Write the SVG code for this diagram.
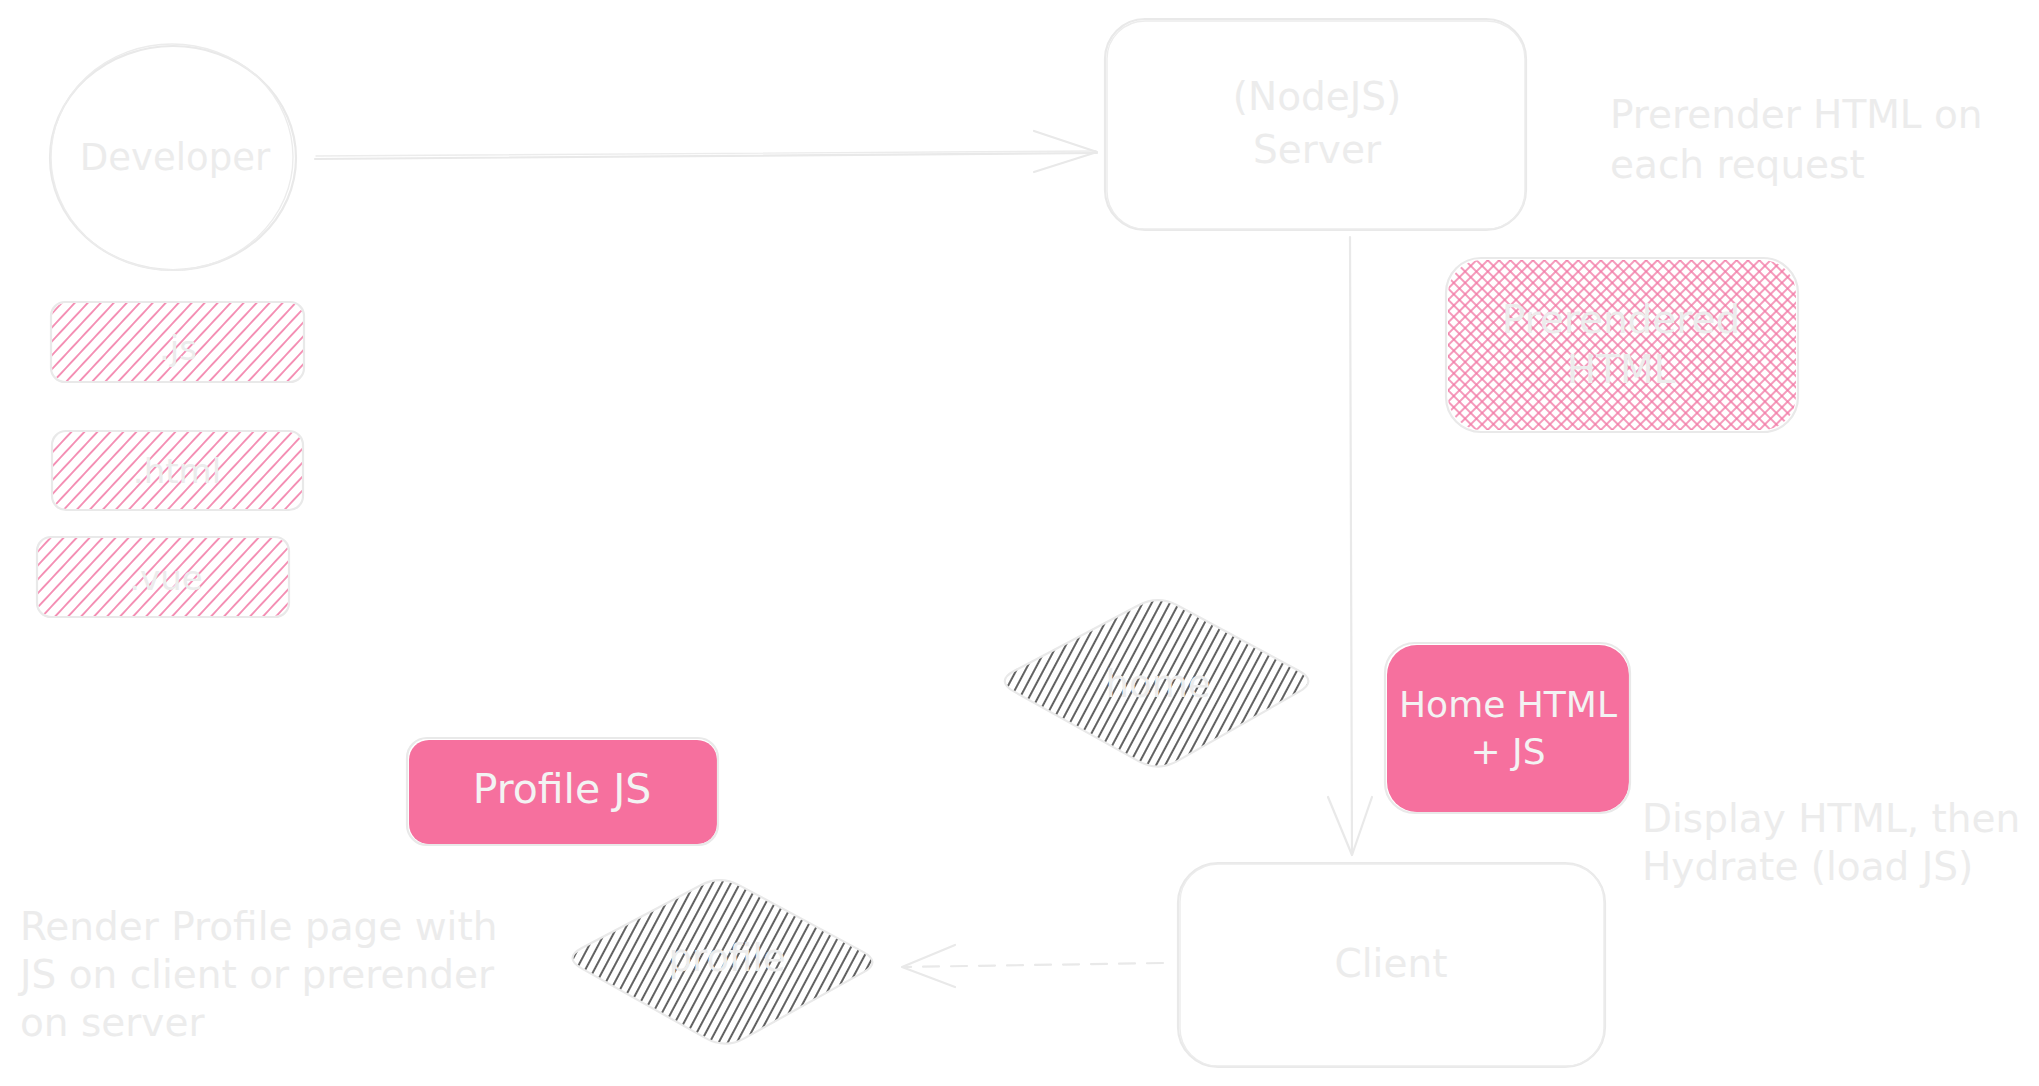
<svg xmlns="http://www.w3.org/2000/svg" width="2039" height="1086" viewBox="0 0 2039 1086">
<defs>
<pattern id="hatchPink" patternUnits="userSpaceOnUse" width="9.5" height="9.5" patternTransform="rotate(-47)">
<line x1="0" y1="4.75" x2="9.5" y2="4.75" stroke="#f27aa6" stroke-width="1.6"/>
</pattern>
<pattern id="crossPink" patternUnits="userSpaceOnUse" width="8" height="8" patternTransform="rotate(45)">
<path d="M0 4H8M4 0V8" stroke="#f27aa6" stroke-width="1.5" fill="none"/>
</pattern>
<pattern id="hatchDark" patternUnits="userSpaceOnUse" width="8" height="8" patternTransform="rotate(-62)">
<line x1="0" y1="4" x2="8" y2="4" stroke="#1e1e1e" stroke-width="1.4"/>
</pattern>
</defs>
<style>
.ol{fill:none;stroke:#e9e9e9;stroke-width:2.2;stroke-linecap:round;stroke-linejoin:round}
.ol2{fill:none;stroke:#ececec;stroke-width:1.4;stroke-linecap:round;stroke-linejoin:round}
.t{font-family:"DejaVu Sans","Liberation Sans",sans-serif;fill:#ececec}
.tc{text-anchor:middle}
.tw{fill:#f3f3f3}
.ar{fill:none;stroke:#e9e9e9;stroke-width:2.2;stroke-linecap:round;stroke-linejoin:round}
</style>
<rect width="2039" height="1086" fill="#ffffff"/>

<g id="connectors">
<g id="edge-developer-server">
<path class="ar" d="M315 159 L1097 153"/>
<path class="ol2" d="M316 156 L1096 151"/>
<path class="ar" d="M1034 131 L1097 152 L1034 172"/>
</g>
<g id="edge-server-client">
<path class="ar" d="M1350 237 L1352 855"/>
<path class="ar" d="M1328 797 L1352 855 L1372 797"/>
</g>
<g id="edge-client-profile">
<path class="ar" d="M1163 963 L903 967" stroke-dasharray="16 12"/>
<path class="ar" d="M955 945 L902 967 L955 987"/>
</g>
</g>

<g id="node-developer">
<ellipse class="ol" cx="173" cy="158" rx="123" ry="112"/>
<ellipse class="ol2" cx="172" cy="157" rx="121" ry="113"/>
<text class="t tc" x="175" y="170" font-size="37">Developer</text>
</g>

<g id="node-server">
<rect class="ol" x="1105" y="19" width="421" height="211" rx="40"/>
<rect class="ol2" x="1107" y="21" width="418" height="208" rx="38"/>
<text class="t tc" x="1317" y="110" font-size="39">(NodeJS)</text>
<text class="t tc" x="1317" y="163" font-size="39">Server</text>
</g>

<g id="note-prerender">
<text class="t" x="1610" y="128" font-size="39">Prerender HTML on</text>
<text class="t" x="1610" y="178" font-size="39">each request</text>
</g>

<g id="node-prerendered">
<rect x="1448" y="260" width="348" height="170" rx="34" fill="url(#crossPink)"/>
<rect class="ol" x="1446" y="258" width="352" height="174" rx="35"/>
<text class="t tc" x="1621" y="333" font-size="39">Prerendered</text>
<text class="t tc" x="1621" y="383" font-size="39">HTML</text>
</g>

<g id="node-js">
<rect x="52" y="303" width="251" height="78" rx="14" fill="url(#hatchPink)"/>
<rect class="ol" x="51" y="302" width="253" height="80" rx="14"/>
<text class="t tc" x="178" y="360" font-size="34">.js</text>
</g>

<g id="node-html">
<rect x="53" y="432" width="249" height="77" rx="14" fill="url(#hatchPink)"/>
<rect class="ol" x="52" y="431" width="251" height="79" rx="14"/>
<text class="t tc" x="177" y="483" font-size="34">.html</text>
</g>

<g id="node-vue">
<rect x="38" y="538" width="250" height="78" rx="14" fill="url(#hatchPink)"/>
<rect class="ol" x="37" y="537" width="252" height="80" rx="14"/>
<text class="t tc" x="166" y="590" font-size="34">.vue</text>
</g>

<g id="node-home">
<path d="M1014.5,670.7 L1138.5,605.3 Q1158,595 1177.2,605.3 L1298.8,670.7 Q1318,681 1298.8,691.9 L1177.2,761.1 Q1158,772 1138.4,761.1 L1014.6,691.9 Q995,681 1014.5,670.7 Z" fill="url(#hatchDark)"/>
<path class="ol" d="M1014.5,670.7 L1138.5,605.3 Q1158,595 1177.2,605.3 L1298.8,670.7 Q1318,681 1298.8,691.9 L1177.2,761.1 Q1158,772 1138.4,761.1 L1014.6,691.9 Q995,681 1014.5,670.7 Z"/>
<text class="t tc" x="1158" y="697" font-size="37">home</text>
</g>

<g id="node-homehtml">
<rect x="1387" y="645" width="242" height="167" rx="30" fill="#f6709e"/>
<rect class="ol" x="1385" y="643" width="245" height="170" rx="30"/>
<text class="t tc tw" x="1508" y="717" font-size="36">Home HTML</text>
<text class="t tc tw" x="1508" y="764" font-size="36">+ JS</text>
</g>

<g id="note-display">
<text class="t" x="1642" y="832" font-size="39">Display HTML, then</text>
<text class="t" x="1642" y="880" font-size="39">Hydrate (load JS)</text>
</g>

<g id="node-client">
<rect class="ol" x="1178" y="863" width="427" height="204" rx="40"/>
<rect class="ol2" x="1180" y="864" width="424" height="202" rx="38"/>
<text class="t tc" x="1391" y="977" font-size="39">Client</text>
</g>

<g id="node-profilejs">
<rect x="409" y="740" width="308" height="104" rx="20" fill="#f6709e"/>
<rect class="ol" x="407" y="738" width="311" height="107" rx="20"/>
<text class="t tc tw" x="562" y="803" font-size="41">Profile JS</text>
</g>

<g id="node-profile">
<path d="M581.8,948 L701.2,885 Q720,875 739.4,885.4 L862.6,951.6 Q882,962 863.2,972.4 L743.8,1038.6 Q725,1049 705.6,1038.1 L582.4,968.9 Q563,958 581.8,948 Z" fill="url(#hatchDark)"/>
<path class="ol" d="M581.8,948 L701.2,885 Q720,875 739.4,885.4 L862.6,951.6 Q882,962 863.2,972.4 L743.8,1038.6 Q725,1049 705.6,1038.1 L582.4,968.9 Q563,958 581.8,948 Z"/>
<text class="t tc" x="727" y="971" font-size="37">profile</text>
</g>

<g id="note-render">
<text class="t" x="20" y="940" font-size="39">Render Profile page with</text>
<text class="t" x="20" y="988" font-size="39">JS on client or prerender</text>
<text class="t" x="20" y="1036" font-size="39">on server</text>
</g>
</svg>
